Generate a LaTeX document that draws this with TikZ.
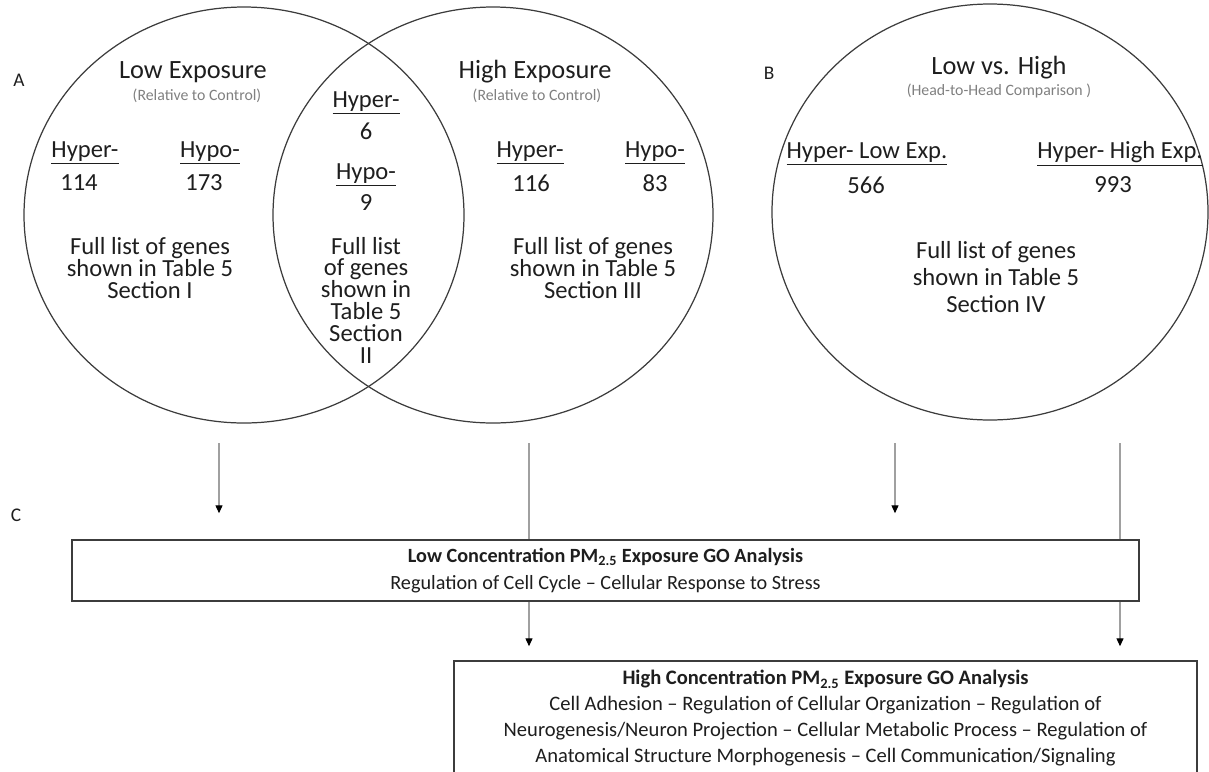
\documentclass[tikz,border=0pt]{standalone}
\usepackage{fontspec}
\setmainfont{Carlito}
\usetikzlibrary{arrows.meta, shapes.geometric}
\definecolor{ink}{HTML}{1E1E1E}
\definecolor{rim}{HTML}{3C3C3C}
\definecolor{subgray}{HTML}{808080}
\definecolor{linkgray}{HTML}{A0A0A0}
\tikzset{
  venn/.style={draw=rim, line width=0.7pt},
  panel/.style={font=\fontsize{11}{13}\selectfont, text=ink, inner sep=0pt},
  settitle/.style={font=\fontsize{15}{17}\selectfont, text=ink, inner sep=0pt},
  setsub/.style={font=\fontsize{9}{11}\selectfont, text=subgray, inner sep=0pt},
  countlbl/.style={font=\fontsize{14}{16}\selectfont, text=ink, inner sep=0pt},
  countnum/.style={font=\fontsize{14}{16}\selectfont, text=ink, inner sep=0pt},
  genelist/.style={font=\fontsize{14}{12.4}\selectfont, text=ink, align=center, inner sep=0pt},
  genelistb/.style={font=\fontsize{14}{15.3}\selectfont, text=ink, align=center, inner sep=0pt},
  gobox/.style={rectangle, draw=rim, line width=0.9pt, fill=white, inner sep=0pt,
                align=center, text=ink},
  link/.style={draw=linkgray, line width=0.6pt},
  arrow/.style={link, -{Triangle[length=4.5pt, width=4pt, color=black]}}
}

\begin{document}
\begin{tikzpicture}[x=0.02cm, y=-0.02cm]
  \useasboundingbox (0,0) rectangle (1209,771);
  \draw [venn] (244,215) ellipse [x radius=220, y radius=208];
  \draw [venn] (493,215) ellipse [x radius=220, y radius=208];
  \draw [venn] (990,212) ellipse [x radius=218, y radius=208];
  \node (labA) [panel] at (19,80) {A};
  \node (labB) [panel] at (769,73) {B};
  \node (labC) [panel] at (16,515) {C};
  \node (lowtitle) [settitle] at (193,72) {Low Exposure};
  \node (lowsub) [setsub] at (197,96) {(Relative to Control)};
  \node (lowhyper) [countlbl] at (85,153) {\underline{Hyper-}};
  \node (lowhypern) [countnum] at (79,183) {114};
  \node (lowhypo) [countlbl] at (210,153) {\underline{Hypo-}};
  \node (lowhypon) [countnum] at (204,183) {173};
  \node (lowlist) [genelist] at (150,268) {Full list of genes\\shown in Table 5\\Section I};
  \node (bothhyper) [countlbl] at (366,103) {\underline{Hyper-}};
  \node (bothhypern) [countnum] at (366,131) {6};
  \node (bothhypo) [countlbl] at (366,175) {\underline{Hypo-}};
  \node (bothhypon) [countnum] at (366,203) {9};
  \node (bothlist) [genelist] at (366,300) {Full list\\of genes\\shown in\\Table 5\\Section\\II};
  \node (hightitle) [settitle] at (535,72) {High Exposure};
  \node (highsub) [setsub] at (537,96) {(Relative to Control)};
  \node (highhyper) [countlbl] at (530,153) {\underline{Hyper-}};
  \node (highhypern) [countnum] at (531,183) {116};
  \node (highhypo) [countlbl] at (655,153) {\underline{Hypo-}};
  \node (highhypon) [countnum] at (655,183) {83};
  \node (highlist) [genelist] at (593,268) {Full list of genes\\shown in Table 5\\Section III};
  \node (vstitle) [settitle] at (999,68) {Low vs. High};
  \node (vssub) [setsub] at (999,91) {(Head-to-Head Comparison )};
  \node (vslow) [countlbl] at (867,154) {\underline{Hyper- Low Exp.}};
  \node (vslown) [countnum] at (866,185) {566};
  \node (vshigh) [countlbl] at (1120,154) {\underline{Hyper- High Exp.}};
  \node (vshighn) [countnum] at (1113,185) {993};
  \node (vslist) [genelistb] at (996,277) {Full list of genes\\shown in Table 5\\Section IV};
  \coordinate (lowA) at (219,443);
  \coordinate (highA) at (529,443);
  \coordinate (lowB) at (895,443);
  \coordinate (highB) at (1120,443);
  \node (lowbox) [gobox, minimum width=21.34cm, minimum height=1.22cm,
        font=\fontsize{11.5}{15.3}\selectfont] at (605.5,570.5)
        {\textbf{Low Concentration PM\textsubscript{2.5} Exposure GO Analysis}\\
         Regulation of Cell Cycle – Cellular Response to Stress};
  \node (highbox) [gobox, minimum width=14.86cm, minimum height=2.3cm,
        font=\fontsize{11.7}{14.8}\selectfont] at (825.5,718.5)
        {\textbf{High Concentration PM\textsubscript{2.5} Exposure GO Analysis}\\
         Cell Adhesion – Regulation of Cellular Organization – Regulation of\\
         Neurogenesis/Neuron Projection – Cellular Metabolic Process – Regulation of\\
         Anatomical Structure Morphogenesis – Cell Communication/Signaling};
  \draw [arrow, shorten >=0.52cm] (lowA) -- (lowA |- lowbox.north);
  \draw [arrow, shorten >=0.52cm] (lowB) -- (lowB |- lowbox.north);
  \draw [link] (highA) -- (highA |- lowbox.north);
  \draw [link] (highB) -- (highB |- lowbox.north);
  \draw [arrow, shorten >=0.28cm] (highA |- lowbox.south) -- (highA |- highbox.north);
  \draw [arrow, shorten >=0.28cm] (highB |- lowbox.south) -- (highB |- highbox.north);
\end{tikzpicture}
\end{document}
